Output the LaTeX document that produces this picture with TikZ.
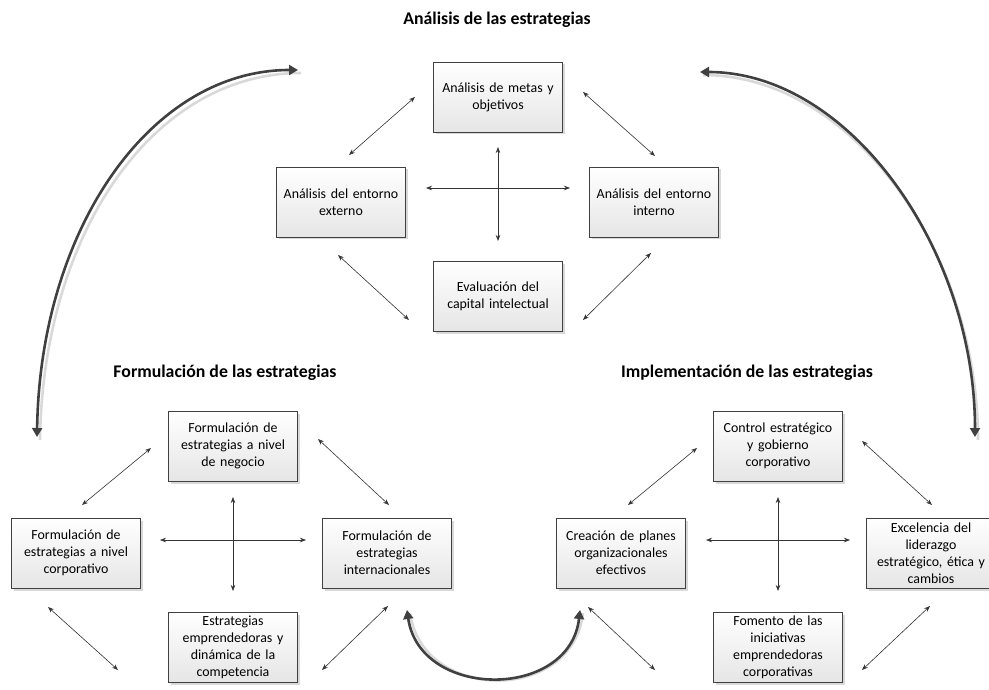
\documentclass[tikz,border=0pt]{standalone}
\usepackage{fontspec}
\setmainfont{Carlito}
\usetikzlibrary{arrows.meta,shadows}
\begin{document}
\begin{tikzpicture}[x=1pt,y=-1pt,
  box/.style={draw=black!75,line width=0.6pt,top color=white,bottom color=black!10,
    minimum width=129pt,minimum height=70pt,inner sep=1pt,align=center,text width=127pt,
    font=\fontsize{13.9}{17}\selectfont,
    drop shadow={shadow xshift=2.5pt,shadow yshift=-2.5pt,fill=black!25,opacity=0.6}},
  ttl/.style={font=\bfseries\fontsize{17.8}{20}\selectfont},
  thin/.style={{Stealth[length=6pt,width=4.5pt]}-{Stealth[length=6pt,width=4.5pt]},line width=0.6pt,draw=black!80},
  big/.style={{Triangle[length=9pt,width=10pt]}-{Triangle[length=9pt,width=10pt]},line width=2.6pt,draw=black!75},
  bigsh/.style={line width=2.6pt,draw=black!15}]
\clip (0,0) rectangle (989,690);
\useasboundingbox (0,0) rectangle (989,690);

% titles
\node[ttl] (t1) at (497,20) {Análisis de las estrategias};
\node[ttl] (t2) at (225,373) {Formulación de las estrategias};
\node[ttl] (t3) at (747,373) {Implementación de las estrategias};

% top group
\node[box] (a1) at (498,97) {Análisis de metas y\\objetivos};
\node[box] (a2) at (341,202) {Análisis del entorno\\externo};
\node[box] (a3) at (654,202) {Análisis del entorno\\interno};
\node[box] (a4) at (498,296) {Evaluación del\\capital intelectual};

\coordinate (ah1) at (426,188); \coordinate (ah2) at (570,188);
\coordinate (av1) at (498,147); \coordinate (av2) at (498,241);
\draw[thin] (ah1) -- (ah2);
\draw[thin] (av1) -- (av2);
\coordinate (ad1a) at (415,97); \coordinate (ad1b) at (349,155);
\coordinate (ad2a) at (583,92); \coordinate (ad2b) at (655,156);
\coordinate (ad3a) at (338,255); \coordinate (ad3b) at (409,320);
\coordinate (ad4a) at (651,253); \coordinate (ad4b) at (583,320);
\draw[thin] (ad1a) -- (ad1b);
\draw[thin] (ad2a) -- (ad2b);
\draw[thin] (ad3a) -- (ad3b);
\draw[thin] (ad4a) -- (ad4b);

% bottom-left group
\node[box] (f1) at (233,446) {Formulación de\\estrategias a nivel\\de negocio};
\node[box] (f2) at (76,553) {Formulación de\\estrategias a nivel\\corporativo};
\node[box] (f3) at (387,553) {Formulación de\\estrategias\\internacionales};
\node[box] (f4) at (233,647) {Estrategias\\emprendedoras y\\dinámica de la\\competencia};

\coordinate (fh1) at (160,540); \coordinate (fh2) at (306,540);
\coordinate (fv1) at (233,497); \coordinate (fv2) at (233,591);
\draw[thin] (fh1) -- (fh2);
\draw[thin] (fv1) -- (fv2);
\coordinate (fd1a) at (82,505); \coordinate (fd1b) at (151,448);
\coordinate (fd2a) at (318,439); \coordinate (fd2b) at (389,505);
\coordinate (fd3a) at (48,607); \coordinate (fd3b) at (118,670);
\coordinate (fd4a) at (388,606); \coordinate (fd4b) at (322,670);
\draw[thin] (fd1a) -- (fd1b);
\draw[thin] (fd2a) -- (fd2b);
\draw[thin] (fd3a) -- (fd3b);
\draw[thin] (fd4a) -- (fd4b);

% bottom-right group
\node[box] (i1) at (778,446) {Control estratégico\\y gobierno\\corporativo};
\node[box] (i2) at (621,553) {Creación de planes\\organizacionales\\efectivos};
\node[box] (i3) at (931,553) {Excelencia del\\liderazgo\\estratégico, ética y\\cambios};
\node[box] (i4) at (778,647) {Fomento de las\\iniciativas\\emprendedoras\\corporativas};

\coordinate (ih1) at (706,540); \coordinate (ih2) at (850,540);
\coordinate (iv1) at (778,497); \coordinate (iv2) at (778,591);
\draw[thin] (ih1) -- (ih2);
\draw[thin] (iv1) -- (iv2);
\coordinate (id1a) at (697,448); \coordinate (id1b) at (628,505);
\coordinate (id2a) at (862,441); \coordinate (id2b) at (932,505);
\coordinate (id3a) at (588,607); \coordinate (id3b) at (655,670);
\coordinate (id4a) at (930,606); \coordinate (id4b) at (862,670);
\draw[thin] (id1a) -- (id1b);
\draw[thin] (id2a) -- (id2b);
\draw[thin] (id3a) -- (id3b);
\draw[thin] (id4a) -- (id4b);

% big curved arrows
\coordinate (L1) at (298,70); \coordinate (L2) at (37,437);
\coordinate (R1) at (700,72); \coordinate (R2) at (975,437);
\coordinate (B1) at (407,610); \coordinate (B2) at (580,610);
\draw[bigsh] ([shift={(3,3)}]L1) .. controls (153,73) and (43,233) .. ([shift={(3,3)}]L2);
\draw[bigsh] ([shift={(3,3)}]R1) .. controls (853,75) and (978,253) .. ([shift={(3,3)}]R2);
\draw[bigsh] ([shift={(3,3)}]B1) .. controls (423,703) and (573,703) .. ([shift={(3,3)}]B2);
\draw[big] (L1) .. controls (150,70) and (40,230) .. (L2);
\draw[big] (R1) .. controls (850,72) and (975,250) .. (R2);
\draw[big] (B1) .. controls (420,700) and (570,700) .. (B2);
\end{tikzpicture}
\end{document}
